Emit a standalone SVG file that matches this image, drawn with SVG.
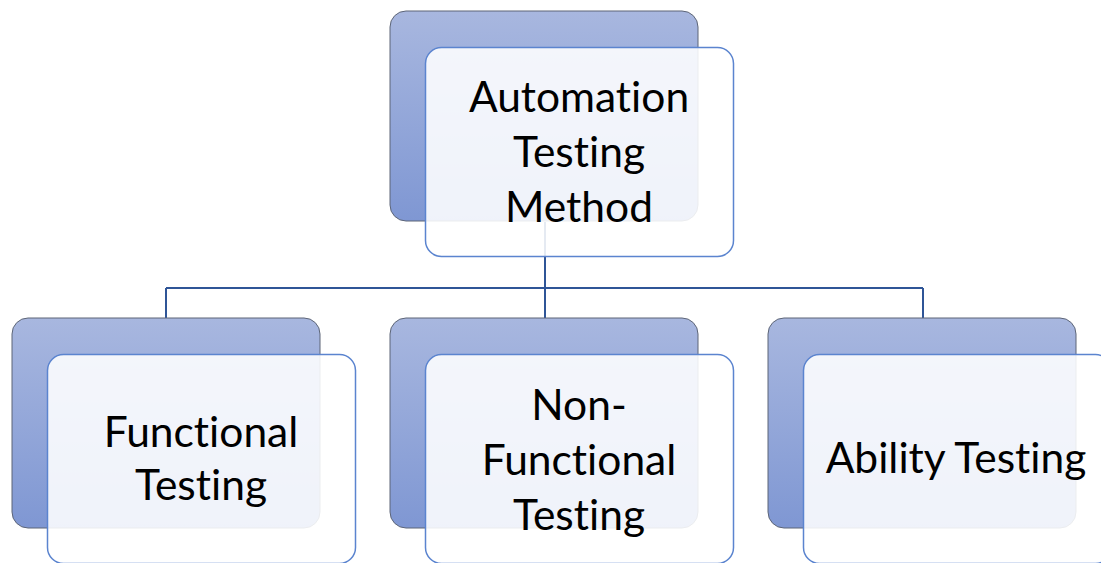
<svg xmlns="http://www.w3.org/2000/svg" width="1101" height="563" viewBox="0 0 1101 563">
<defs>
<linearGradient id="g" x1="0" y1="0" x2="0" y2="1">
<stop offset="0" stop-color="#a8b7df"/>
<stop offset="1" stop-color="#7f97d3"/>
</linearGradient>
<style>
.back{fill:url(#g);stroke:#5d6577;stroke-width:1}
.front{fill:#ffffff;fill-opacity:0.88;stroke:#5b84cf;stroke-width:1.5}
.t{font-family:Lato,"Open Sans","Liberation Sans",sans-serif;font-size:42.5px;fill:#000;text-anchor:middle;font-variant-ligatures:none}
.c{fill:none;stroke:#2f5597;stroke-width:2}
</style>
</defs>
<rect width="1101" height="563" fill="#fff"/>
<g id="connectors">
<path class="c" d="M545 222 V288 M166 288 H923 M166 288 V318 M545 288 V318 M923 288 V318"/>
</g>
<g id="root">
<rect class="back" x="390" y="11" width="308" height="210" rx="16"/>
<rect class="front" x="425.5" y="47.5" width="308" height="209" rx="16"/>
<text class="t" x="579" y="112">Automation</text>
<text class="t" x="579" y="167">Testing</text>
<text class="t" x="579" y="222">Method</text>
</g>
<g id="functional">
<rect class="back" x="12" y="318" width="308" height="210" rx="16"/>
<rect class="front" x="47.5" y="354.5" width="308" height="209" rx="16"/>
<text class="t" x="201" y="447">Functional</text>
<text class="t" x="201" y="500">Testing</text>
</g>
<g id="nonfunctional">
<rect class="back" x="390" y="318" width="308" height="210" rx="16"/>
<rect class="front" x="425.5" y="354.5" width="308" height="209" rx="16"/>
<text class="t" x="579" y="420">Non-</text>
<text class="t" x="579" y="475">Functional</text>
<text class="t" x="579" y="530">Testing</text>
</g>
<g id="ability">
<rect class="back" x="768" y="318" width="308" height="210" rx="16"/>
<rect class="front" x="803.5" y="354.5" width="308" height="209" rx="16"/>
<text class="t" x="956" y="473">Ability Testing</text>
</g>
</svg>
